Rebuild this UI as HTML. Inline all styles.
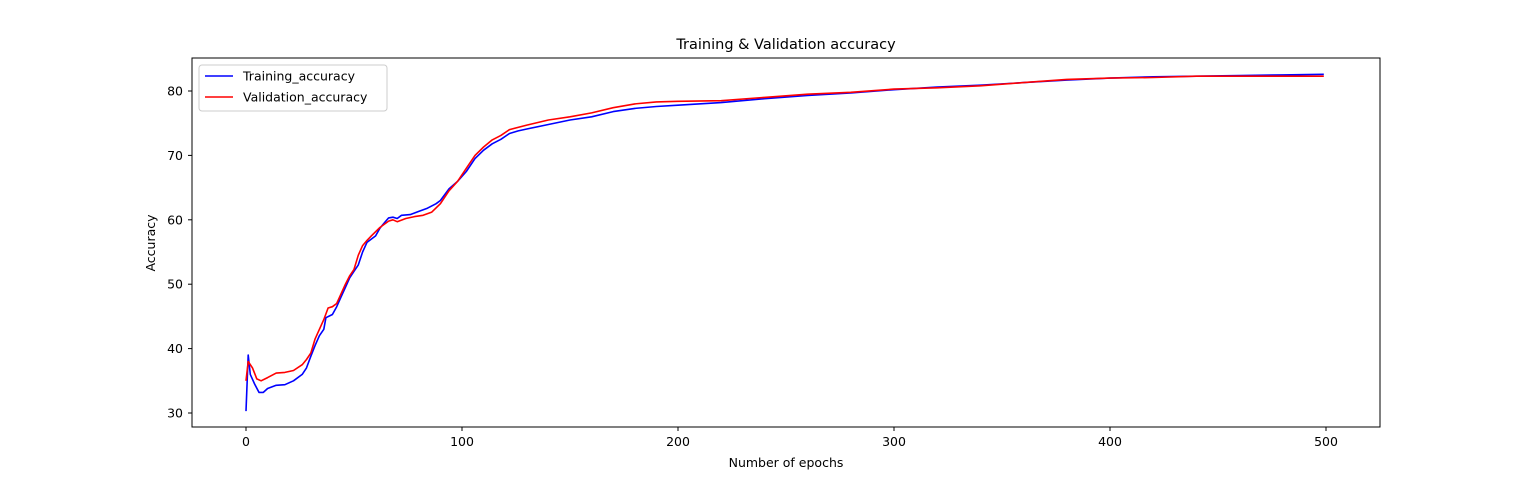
<!DOCTYPE html>
<html><head><meta charset="utf-8"><style>
body{margin:0;background:#fff;}
svg{display:block;font-family:"DejaVu Sans","Liberation Sans",sans-serif;}
</style></head><body>
<svg id="chart" width="1533" height="480">
<rect x="0" y="0" width="1533" height="480" fill="#fff"/>
<text x="786" y="49" font-size="14.5" text-anchor="middle">Training &amp; Validation accuracy</text>
<g id="ticks"></g>
<g id="lines"></g>
<rect x="192" y="58" width="1188" height="369" fill="none" stroke="#000" stroke-width="1"/>
<text x="786" y="467" font-size="12.5" text-anchor="middle">Number of epochs</text>
<text x="155" y="243" font-size="12.5" text-anchor="middle" transform="rotate(-90 155 243)">Accuracy</text>
<g>
<rect x="199" y="65" width="188" height="46" rx="3" fill="#fff" stroke="#ccc"/>
<line x1="205" y1="76" x2="233" y2="76" stroke="#0000ff" stroke-width="1.6"/>
<text x="243" y="80.5" font-size="12.5">Training_accuracy</text>
<line x1="205" y1="97" x2="233" y2="97" stroke="#ff0000" stroke-width="1.6"/>
<text x="243" y="101.5" font-size="12.5">Validation_accuracy</text>
</g>
</svg>
<script>
const trainEpochs=[0,1,2,4,6,8,10,14,18,22,26,28,30,32,34,36,37,40,42,44,46,48,50,52,54,56,58,60,62,64,66,68,70,72,76,80,84,88,90,94,98,102,106,110,114,118,122,126,130,140,150,160,170,180,190,200,220,240,260,280,300,320,340,360,380,400,420,440,460,480,499];
const trainAcc=[30.3,39,36,34.5,33.2,33.2,33.8,34.3,34.4,35,36,37,38.8,40.5,42,43,44.8,45.3,46.5,48,49.5,51,52,53,55,56.5,57,57.5,58.7,59.5,60.3,60.4,60.2,60.7,60.8,61.3,61.8,62.5,63,64.8,66,67.5,69.5,70.8,71.8,72.5,73.4,73.8,74.1,74.8,75.5,76,76.8,77.3,77.6,77.8,78.2,78.8,79.3,79.7,80.2,80.6,80.9,81.3,81.7,82,82.2,82.3,82.4,82.5,82.6];
const valEpochs=[0,1,3,5,7,10,14,18,22,26,28,30,32,34,36,38,40,42,44,46,48,50,52,54,56,58,62,66,68,70,74,78,82,86,90,94,98,102,106,110,114,118,122,130,140,150,160,170,180,190,200,220,240,260,280,300,320,340,360,380,400,420,440,460,480,499];
const valAcc=[35,38,37,35.3,35,35.5,36.2,36.3,36.6,37.5,38.3,39.3,41.5,43,44.5,46.3,46.5,47,48.5,50,51.3,52.3,54.5,56,56.8,57.5,58.8,59.8,60,59.7,60.2,60.5,60.7,61.2,62.5,64.5,66,68,70,71.3,72.4,73.1,74,74.7,75.5,76,76.6,77.4,78,78.3,78.4,78.5,79,79.5,79.8,80.3,80.5,80.8,81.3,81.8,82,82.1,82.3,82.3,82.3,82.3];
const xTicks=[0,100,200,300,400,500];
const yTicks=[30,40,50,60,70,80];
const NS='http://www.w3.org/2000/svg';
function xs(v){return 246+v*2.16;}
function ys(v){return 413-(v-30)*6.44;}
const tg=document.getElementById('ticks');
xTicks.forEach(t=>{
  const l=document.createElementNS(NS,'line');
  l.setAttribute('x1',xs(t));l.setAttribute('x2',xs(t));l.setAttribute('y1',427);l.setAttribute('y2',431);l.setAttribute('stroke','#000');
  
  
  tg.appendChild(l);
  const tx=document.createElementNS(NS,'text');
  tx.setAttribute('x',xs(t));tx.setAttribute('y',446);tx.setAttribute('font-size','12.5');tx.setAttribute('text-anchor','middle');tx.textContent=t;
  
  
  tg.appendChild(tx);
});
yTicks.forEach(t=>{
  const l=document.createElementNS(NS,'line');
  l.setAttribute('x1',188);l.setAttribute('x2',192);l.setAttribute('y1',ys(t));l.setAttribute('y2',ys(t));l.setAttribute('stroke','#000');
  
  
  tg.appendChild(l);
  const tx=document.createElementNS(NS,'text');
  tx.setAttribute('x',183);tx.setAttribute('y',ys(t)+4.5);tx.setAttribute('font-size','12.5');tx.setAttribute('text-anchor','end');tx.textContent=t;
  
  
  tg.appendChild(tx);
});
const lg=document.getElementById('lines');
function drawLine(ex,vals,color,name){
  const p=document.createElementNS(NS,'polyline');
  p.setAttribute('points',ex.map((e,i)=>xs(e).toFixed(1)+','+ys(vals[i]).toFixed(1)).join(' '));
  p.setAttribute('fill','none');p.setAttribute('stroke',color);p.setAttribute('stroke-width','1.6');p.setAttribute('stroke-linejoin','round');
  
  
  lg.appendChild(p);
}
drawLine(trainEpochs,trainAcc,'#0000ff','training-accuracy-line');
drawLine(valEpochs,valAcc,'#ff0000','validation-accuracy-line');
</script>
</body></html>
